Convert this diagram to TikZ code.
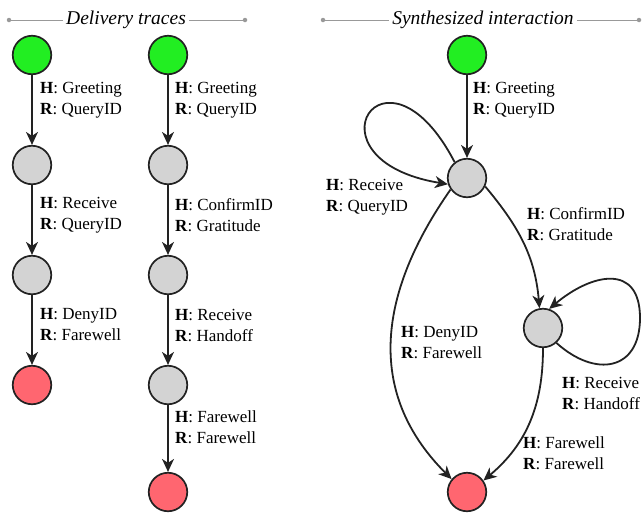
\documentclass[tikz,border=0pt]{standalone}
\usepackage{fontspec}
\setmainfont{Liberation Serif}
\usetikzlibrary{arrows.meta}
\definecolor{sgreen}{HTML}{22EE22}
\definecolor{sgray}{HTML}{D3D3D3}
\definecolor{sred}{HTML}{FF6670}
\definecolor{ink}{HTML}{222222}
\definecolor{rulec}{HTML}{999999}
\begin{document}
\begin{tikzpicture}[x=1pt,y=1pt,
 state/.style={circle,draw=ink,line width=1.7pt,minimum size=38.5pt,inner sep=0pt},
 startst/.style={state,fill=sgreen},
 midst/.style={state,fill=sgray},
 finalst/.style={state,fill=sred},
 edge/.style={draw=ink,line width=1.8pt,-{Stealth[length=13pt,width=12pt,inset=4pt]}},
 lab/.style={anchor=west,align=left,font=\fontsize{17}{21}\selectfont,inner sep=0pt},
 ttl/.style={font=\fontsize{19.5}{22}\selectfont\itshape,inner sep=3pt},
 rulel/.style={draw=rulec,line width=0.9pt},
 dot/.style={circle,fill=rulec,inner sep=0pt,minimum size=4.5pt}]
\useasboundingbox (0,0) rectangle (642,-512);
% titles
\node[ttl] (t1) at (126,-20) {Delivery traces};
\node[dot] (d1a) at (9,-20) {};
\node[dot] (d1b) at (245,-20) {};
\draw[rulel] (d1a) -- (t1);
\draw[rulel] (t1) -- (d1b);
\node[ttl] (t2) at (483,-20) {Synthesized interaction};
\node[dot] (d2a) at (323,-20) {};
\node[dot] (d2b) at (639,-20) {};
\draw[rulel] (d2a) -- (t2);
\draw[rulel] (t2) -- (d2b);
% trace 1
\node[startst] (a1) at (32,-55) {};
\node[midst] (a2) at (32,-165) {};
\node[midst] (a3) at (32,-275) {};
\node[finalst] (a4) at (32,-385) {};
\draw[edge] (a1) -- (a2);
\draw[edge] (a2) -- (a3);
\draw[edge] (a3) -- (a4);
\node[lab] (la1) at (40,-100) {\textbf{H}: Greeting\\\textbf{R}: QueryID};
\node[lab] (la2) at (40,-215) {\textbf{H}: Receive\\\textbf{R}: QueryID};
\node[lab] (la3) at (40,-325) {\textbf{H}: DenyID\\\textbf{R}: Farewell};
% trace 2
\node[startst] (b1) at (168,-55) {};
\node[midst] (b2) at (168,-165) {};
\node[midst] (b3) at (168,-275) {};
\node[midst] (b4) at (168,-385) {};
\node[finalst] (b5) at (168,-492) {};
\draw[edge] (b1) -- (b2);
\draw[edge] (b2) -- (b3);
\draw[edge] (b3) -- (b4);
\draw[edge] (b4) -- (b5);
\node[lab] (lb1) at (175,-100) {\textbf{H}: Greeting\\\textbf{R}: QueryID};
\node[lab] (lb2) at (175,-215) {\textbf{H}: ConfirmID\\\textbf{R}: Gratitude};
\node[lab] (lb3) at (175,-325) {\textbf{H}: Receive\\\textbf{R}: Handoff};
\node[lab] (lb4) at (175,-427) {\textbf{H}: Farewell\\\textbf{R}: Farewell};
% synthesized
\node[startst] (c1) at (467,-55) {};
\node[midst] (c2) at (467,-178) {};
\node[midst] (c3) at (543,-328) {};
\node[finalst] (c4) at (467,-492) {};
\coordinate (cr) at (640,-318);
\draw[edge] (c1) -- (c2);
\draw[edge] (c2.128) .. controls (385,-28) and (300,-160) .. (c2.198);
\draw[edge] (c2.-25) to[out=-50,in=95] (c3.100);
\draw[edge] (c2.215) to[out=235,in=135,distance=124pt] (c4.140);
\draw[edge] (c3.-48) to[out=-42,in=-90,looseness=1.55] (cr) to[out=90,in=40,looseness=1.55] (c3.72);
\draw[edge] (c3.-90) to[out=-90,in=40] (c4.35);
\node[lab] (lc1) at (473,-100) {\textbf{H}: Greeting\\\textbf{R}: QueryID};
\node[lab] (lc2) at (326,-197) {\textbf{H}: Receive\\\textbf{R}: QueryID};
\node[lab] (lc3) at (527,-224) {\textbf{H}: ConfirmID\\\textbf{R}: Gratitude};
\node[lab] (lc4) at (401,-343) {\textbf{H}: DenyID\\\textbf{R}: Farewell};
\node[lab] (lc5) at (562,-393) {\textbf{H}: Receive\\\textbf{R}: Handoff};
\node[lab] (lc6) at (523,-453) {\textbf{H}: Farewell\\\textbf{R}: Farewell};
\end{tikzpicture}
\end{document}
